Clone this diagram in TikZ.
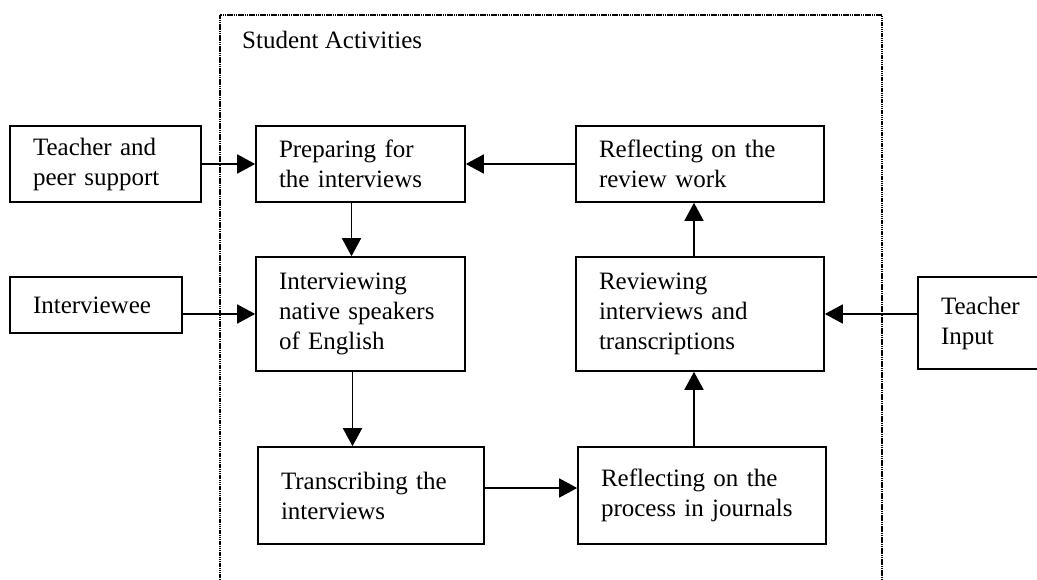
\documentclass[tikz,border=0pt]{standalone}
\usepackage{fontspec}
\setmainfont{Liberation Serif}
\usetikzlibrary{arrows.meta,calc}
\begin{document}
\begin{tikzpicture}[x=1pt,y=-1pt,
  box/.style={draw, line width=1.6pt, align=left, inner xsep=23pt, inner ysep=0pt,
    font=\fontsize{25}{30}\selectfont},
  conn/.style={line width=1.6pt, -{Triangle[length=18pt,width=19pt]}},
  frame/.style={line width=1.1pt, dash pattern=on 1.5pt off 0.7pt}]
\useasboundingbox (0,0) rectangle (1037,580);
\clip (0,0) rectangle (1037,580);
\draw[frame] (220,580) -- (220,15) -- (882,15) -- (882,580);
\node[anchor=base west, inner sep=0pt, font=\fontsize{25}{30}\selectfont] (title) at (242,49) {Student Activities};
\node[box, text width=145pt, minimum height=76pt] (tps) at (105.5,164) {Teacher and\\peer support};
\node[box, text width=163pt, minimum height=76pt] (prep) at (360.5,164) {Preparing for\\the interviews};
\node[box, text width=202pt, minimum height=76pt] (refrev) at (700,164) {Reflecting on the\\review work};
\node[box, text width=126pt, minimum height=56pt] (ivee) at (96,305) {Interviewee};
\node[box, text width=163pt, minimum height=114pt] (ivw) at (360.5,314) {Interviewing\\native speakers\\of English};
\node[box, text width=202pt, minimum height=114pt] (revw) at (700,314) {Reviewing\\interviews and\\transcriptions};
\node[box, text width=96pt, minimum height=92pt] (tin) at (989,323) {Teacher\\Input};
\node[box, text width=180pt, minimum height=97pt] (trans) at (371,495.5) {Transcribing the\\interviews};
\node[box, text width=202pt, minimum height=97pt] (refproc) at (702,495.5) {Reflecting on the\\process in journals};
\draw[conn] (tps.east) -- (prep.west);
\draw[conn] (refrev.west) -- (prep.east);
\draw[conn] ([xshift=-9pt]prep.south) -- ([xshift=-9pt]prep.south |- ivw.north);
\draw[conn] (ivee.east |- ivw.west) -- (ivw.west);
\draw[conn] ([xshift=-8pt]ivw.south) -- ([xshift=-8pt]ivw.south |- trans.north);
\draw[conn] ([yshift=7.5pt]trans.east) -- ([yshift=7.5pt]trans.east -| refproc.west);
\draw[conn] ([xshift=-8pt]refproc.north) -- ([xshift=-8pt]refproc.north |- revw.south);
\draw[conn] ([xshift=-6pt]revw.north) -- ([xshift=-6pt]revw.north |- refrev.south);
\draw[conn] (tin.west |- revw.east) -- (revw.east);
\end{tikzpicture}
\end{document}
